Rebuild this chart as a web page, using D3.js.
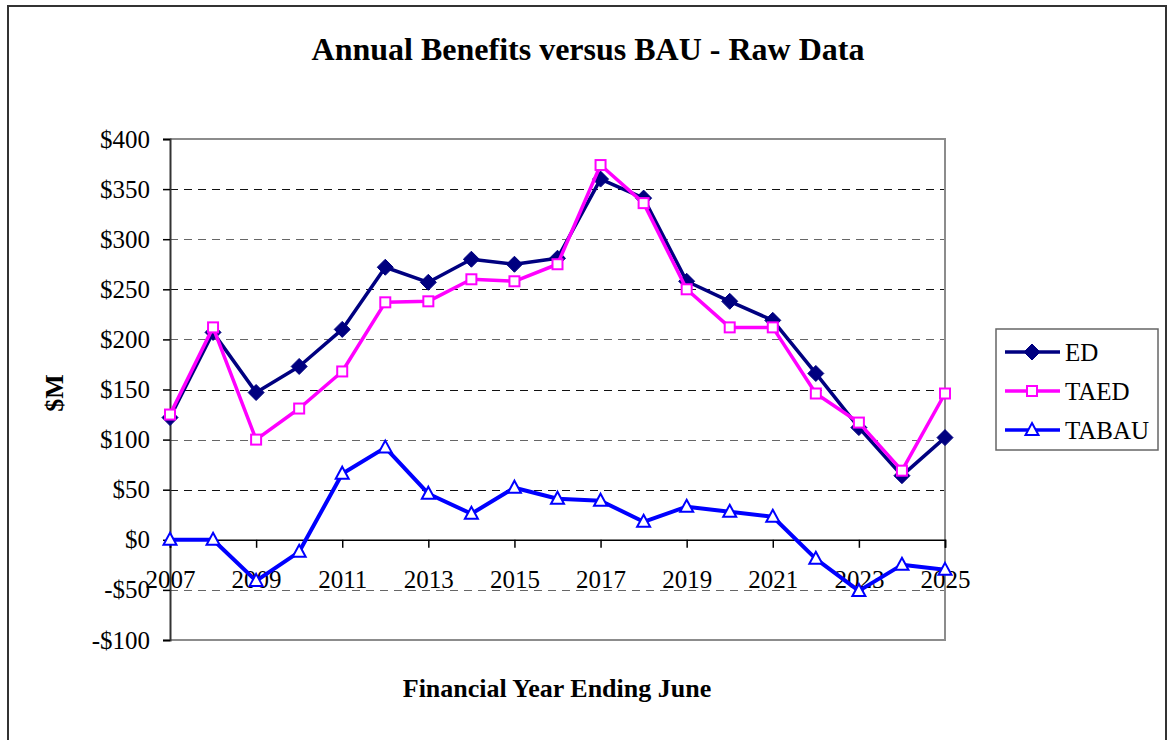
<!DOCTYPE html>
<html>
<head>
<meta charset="utf-8">
<script src="https://cdn.jsdelivr.net/npm/d3@7"></script>
<style>
  body { margin: 0; background: #fff; }
  svg { display: block; font-family: "Liberation Serif", "DejaVu Serif", serif; }
  svg text { font-family: "Liberation Serif", "DejaVu Serif", serif; }
</style>
</head>
<body>
<script>
// Datos
const years = [2007, 2008, 2009, 2010, 2011, 2012, 2013, 2014, 2015, 2016,
               2017, 2018, 2019, 2020, 2021, 2022, 2023, 2024, 2025];
const edValues = [122, 207, 147, 173, 210, 272, 257, 280, 275, 281,
                  360, 341, 258, 238, 219, 166, 112, 64, 102];
const taedValues = [125, 212, 100, 131, 168, 237, 238, 260, 258, 275,
                    374, 336, 250, 212, 212, 146, 117, 69, 146];
const tabauValues = [0, 0, -41, -12, 66, 92, 46, 26, 52, 41,
                     39, 18, 33, 28, 23, -19, -51, -25, -30];
const yTicks = [-100, -50, 0, 50, 100, 150, 200, 250, 300, 350, 400];
const xTickYears = [2007, 2009, 2011, 2013, 2015, 2017, 2019, 2021, 2023, 2025];

const series = [
    {name: "ED", values: edValues, color: "#000080", marker: "diamond"},
    {name: "TAED", values: taedValues, color: "#FF00FF", marker: "square"},
    {name: "TABAU", values: tabauValues, color: "#0000FF", marker: "triangle"}
];

var width = 1172, height = 740;
var plot = {left: 170, right: 945, top: 139, bottom: 640};

var svg = d3.select("body").append("svg")
    .attr("width", width)
    .attr("height", height);

// Marco exterior
svg.append("rect")
    .attr("x", 8).attr("y", 6)
    .attr("width", 1158).attr("height", 760)
    .attr("fill", "#fff")
    .attr("stroke", "#333")
    .attr("stroke-width", 2);

const x = d3.scalePoint()
    .domain(years)
    .range([plot.left, plot.right]);

const y = d3.scaleLinear()
    .domain([-100, 400])
    .range([plot.bottom, plot.top]);

// Título
svg.append("text")
    .attr("x", 588).attr("y", 60)
    .attr("text-anchor", "middle")
    .style("font-size", "32px")
    .style("font-weight", "bold")
    .text("Annual Benefits versus BAU - Raw Data");

// Líneas de guía discontinuas
svg.selectAll("line.grid")
    .data(yTicks.filter(d => d !== 0 && d !== -100 && d !== 400))
    .enter().append("line")
    .attr("class", "grid")
    .attr("x1", plot.left).attr("x2", plot.right)
    .attr("y1", d => Math.round(y(d)) + 0.5)
    .attr("y2", d => Math.round(y(d)) + 0.5)
    .attr("stroke", (d, i) => i % 2 === 0 ? "#666" : "#111")
    .attr("stroke-width", 1.2)
    .attr("stroke-dasharray", "8,6");

// Borde del área de trazado (arriba, derecha, abajo en gris)
svg.append("path")
    .attr("d", `M${plot.left},${plot.top}H${plot.right}V${plot.bottom}H${plot.left}`)
    .attr("fill", "none")
    .attr("stroke", "#8c8c8c")
    .attr("stroke-width", 2);

// Eje Y
var yAxis = d3.axisLeft(y)
    .tickValues(yTicks)
    .tickSize(7)
    .tickPadding(13)
    .tickFormat(d => (d < 0 ? "-$" : "$") + Math.abs(d));
var gy = svg.append("g")
    .attr("transform", `translate(${plot.left}, 0)`)
    .call(yAxis)
    .attr("font-family", null)
    .attr("font-size", null);
gy.select(".domain").attr("stroke", "#333").attr("stroke-width", 2);
gy.selectAll(".tick line").attr("stroke", "#000").attr("stroke-width", 1.5);
gy.selectAll("text")
    .style("font-size", "25px")
    .attr("fill", "#000");

// Eje X en $0
var xAxis = d3.axisBottom(x)
    .tickValues(xTickYears)
    .tickSize(8)
    .tickPadding(22);
var gx = svg.append("g")
    .attr("transform", `translate(0, ${y(0)})`)
    .call(xAxis)
    .attr("font-family", null)
    .attr("font-size", null);
gx.select(".domain").attr("stroke", "#000").attr("stroke-width", 1.6);
gx.selectAll(".tick line").attr("stroke", "#000").attr("stroke-width", 1.5);
gx.selectAll("text")
    .style("font-size", "25px")
    .attr("fill", "#000");

// Títulos de ejes
svg.append("text")
    .attr("transform", "translate(63, 393) rotate(-90)")
    .attr("text-anchor", "middle")
    .style("font-size", "26px")
    .style("font-weight", "bold")
    .text("$M");

svg.append("text")
    .attr("x", 557).attr("y", 697)
    .attr("text-anchor", "middle")
    .style("font-size", "26px")
    .style("font-weight", "bold")
    .text("Financial Year Ending June");

// Marcadores
function drawMarker(g, type, color) {
    if (type === "diamond") {
        g.append("path")
            .attr("d", "M0,-8L8,0L0,8L-8,0Z")
            .attr("fill", color)
            .attr("stroke", color);
    } else if (type === "square") {
        g.append("rect")
            .attr("x", -5).attr("y", -5)
            .attr("width", 10).attr("height", 10)
            .attr("fill", "#fff")
            .attr("stroke", color)
            .attr("stroke-width", 2);
    } else {
        g.append("path")
            .attr("d", "M0,-7L6.5,5L-6.5,5Z")
            .attr("fill", "#fff")
            .attr("stroke", color)
            .attr("stroke-width", 2);
    }
}

var line = d3.line()
    .x((d, i) => x(years[i]))
    .y(d => y(d));

// Orden de dibujo: TABAU, ED y TAED encima
[series[2], series[0], series[1]].forEach(s => {
    svg.append("path")
        .datum(s.values)
        .attr("fill", "none")
        .attr("stroke", s.color)
        .attr("stroke-width", s.name === "TABAU" ? 4 : 3.5)
        .attr("stroke-linejoin", "round")
        .attr("d", line);

    s.values.forEach((v, i) => {
        var m = svg.append("g")
            .attr("transform", `translate(${x(years[i])}, ${y(v)})`);
        drawMarker(m, s.marker, s.color);
    });
});

// Leyenda
var legend = svg.append("g");
legend.append("rect")
    .attr("x", 996).attr("y", 329)
    .attr("width", 162).attr("height", 121)
    .attr("fill", "#fff")
    .attr("stroke", "#666")
    .attr("stroke-width", 1.5);

series.forEach((s, i) => {
    var row = legend.append("g")
        .attr("transform", `translate(0, ${352 + i * 39})`);
    row.append("line")
        .attr("x1", 1005).attr("x2", 1060)
        .attr("y1", 0).attr("y2", 0)
        .attr("stroke", s.color)
        .attr("stroke-width", 3.5);
    var m = row.append("g").attr("transform", "translate(1032, 0)");
    drawMarker(m, s.marker, s.color);
    row.append("text")
        .attr("x", 1065).attr("y", 9)
        .style("font-size", "25px")
        .text(s.name);
});
</script>
</body>
</html>
